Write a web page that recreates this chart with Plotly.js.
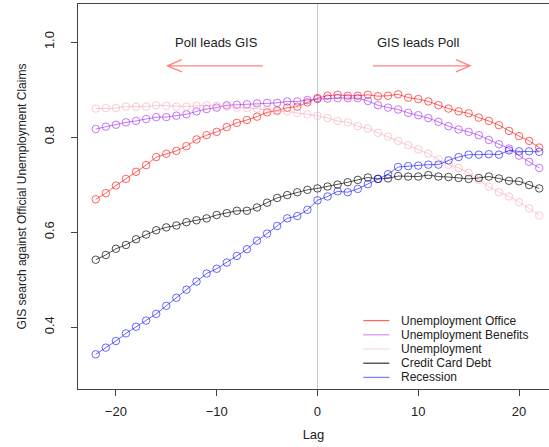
<!DOCTYPE html>
<html>
<head>
<meta charset="utf-8">
<script src="https://cdn.plot.ly/plotly-3.0.1.min.js"></script>
<style>html,body{margin:0;padding:0;background:#fff;}#chart{width:549px;height:447px;}</style>
</head>
<body>
<div id="chart"></div>
<script>
// ---- data ----
var lags = [-22,-21,-20,-19,-18,-17,-16,-15,-14,-13,-12,-11,-10,-9,-8,-7,-6,-5,-4,-3,-2,-1,0,1,2,3,4,5,6,7,8,9,10,11,12,13,14,15,16,17,18,19,20,21,22];

var unemploymentOffice = [0.669,0.682,0.698,0.712,0.727,0.741,0.758,0.765,0.771,0.781,0.795,0.804,0.811,0.821,0.830,0.836,0.843,0.852,0.856,0.862,0.864,0.873,0.882,0.887,0.889,0.887,0.887,0.889,0.886,0.887,0.890,0.883,0.880,0.875,0.867,0.860,0.854,0.850,0.841,0.834,0.825,0.813,0.802,0.792,0.778];

var unemploymentBenefits = [0.817,0.822,0.826,0.831,0.834,0.838,0.842,0.842,0.845,0.848,0.854,0.859,0.862,0.867,0.868,0.869,0.871,0.872,0.872,0.875,0.875,0.878,0.880,0.881,0.882,0.882,0.882,0.876,0.867,0.862,0.858,0.851,0.846,0.840,0.832,0.823,0.816,0.811,0.804,0.794,0.785,0.776,0.761,0.748,0.735];

var unemployment = [0.860,0.861,0.861,0.864,0.864,0.864,0.867,0.866,0.864,0.864,0.866,0.867,0.866,0.864,0.862,0.861,0.860,0.857,0.854,0.854,0.851,0.848,0.845,0.840,0.834,0.831,0.823,0.818,0.809,0.801,0.792,0.783,0.774,0.765,0.753,0.742,0.735,0.725,0.710,0.696,0.684,0.675,0.663,0.650,0.635];

var creditCardDebt = [0.542,0.552,0.565,0.573,0.585,0.595,0.604,0.610,0.614,0.621,0.625,0.629,0.636,0.640,0.645,0.645,0.652,0.662,0.672,0.678,0.684,0.689,0.692,0.696,0.700,0.705,0.710,0.715,0.712,0.713,0.718,0.717,0.717,0.720,0.717,0.716,0.714,0.712,0.714,0.717,0.713,0.708,0.707,0.699,0.692];

var recession = [0.343,0.357,0.371,0.387,0.401,0.414,0.428,0.445,0.462,0.479,0.496,0.513,0.523,0.536,0.550,0.564,0.582,0.597,0.613,0.629,0.634,0.647,0.667,0.675,0.686,0.684,0.691,0.701,0.712,0.722,0.737,0.739,0.740,0.742,0.742,0.751,0.758,0.763,0.763,0.764,0.763,0.772,0.770,0.770,0.769];

var seriesNames = ['Unemployment Office','Unemployment Benefits','Unemployment','Credit Card Debt','Recession'];
var seriesValues = [unemploymentOffice, unemploymentBenefits, unemployment, creditCardDebt, recession];

var xTickVals = [-20,-10,0,10,20];
var yTickVals = [0.4,0.6,0.8,1.0];
var yTickText = ['0.4','0.6','0.8','1.0'];

// ---- styles ----
var seriesColors = ['rgba(255,0,0,0.6)','rgba(160,32,240,0.6)','rgba(245,160,175,0.55)','rgba(0,0,0,0.68)','rgba(0,0,255,0.58)'];
var legendColors = ['rgba(255,0,0,0.6)','rgba(160,32,240,0.45)','rgba(245,160,175,0.4)','rgba(0,0,0,0.75)','rgba(0,0,255,0.5)'];
var FONT = 'Liberation Sans, Arial, Helvetica, sans-serif';

var traces = seriesNames.map(function(name, i){
  return {
    type:'scatter', mode:'lines+markers', name:name,
    x:lags, y:seriesValues[i],
    line:{color:seriesColors[i], width:1},
    marker:{symbol:'circle-open', size:7.5, color:seriesColors[i], line:{color:seriesColors[i], width:1}},
    showlegend:false, hoverinfo:'skip'
  };
});

// legend drawn R-style (lines only), rows in paper coords
var legTop = 0.1777, legStep = 0.0369;
var shapes = [];
var annotations = [];
seriesNames.forEach(function(name, i){
  var yy = legTop - i*legStep;
  shapes.push({type:'line', xref:'paper', yref:'paper', x0:0.6057, x1:0.661, y0:yy, y1:yy,
               line:{color:legendColors[i], width:1.3}});
  annotations.push({xref:'paper', yref:'paper', x:0.683, y:yy, xanchor:'left', yanchor:'middle',
               text:name, showarrow:false, borderpad:0,
               font:{family:FONT, size:12, color:'#222'}});
});

// direction arrows (R-style open heads)
var arrowColor = 'rgba(255,90,90,0.75)';
var hx = 1.42, hy = 0.0128, ay = 0.95;
function arrowPath(x0, x1){
  var d = x1 > x0 ? -hx : hx;
  return 'M'+x0+','+ay+' L'+x1+','+ay+' M'+(x1+d)+','+(ay+hy)+' L'+x1+','+ay+' L'+(x1+d)+','+(ay-hy);
}
shapes.push({type:'path', xref:'x', yref:'y', path:arrowPath(-5.42,-14.88), line:{color:arrowColor, width:1.3}});
shapes.push({type:'path', xref:'x', yref:'y', path:arrowPath(5.5,15.15), line:{color:arrowColor, width:1.3}});
annotations.push({xref:'x', yref:'y', x:-10, y:1.0, text:'Poll leads GIS', showarrow:false,
                  font:{family:FONT, size:13, color:'#222'}});
annotations.push({xref:'x', yref:'y', x:10, y:1.0, text:'GIS leads Poll', showarrow:false,
                  font:{family:FONT, size:13, color:'#222'}});

var layout = {
  width:549, height:447,
  margin:{l:78, r:0, t:4, b:58, pad:0},
  paper_bgcolor:'#fff', plot_bgcolor:'#fff',
  showlegend:false,
  font:{family:FONT, size:13, color:'#222'},
  xaxis:{
    range:[-23.76, 22.97], tickvals:xTickVals, ticks:'outside', ticklen:6, tickwidth:1, tickcolor:'#444',
    showline:true, linecolor:'#444', linewidth:1, mirror:true,
    showgrid:false, zeroline:true, zerolinecolor:'#c8c8c8', zerolinewidth:1,
    ticklabelstandoff:4,
    tickfont:{family:FONT, size:13, color:'#222'},
    title:{text:'Lag', font:{family:FONT, size:13, color:'#222'}, standoff:12}
  },
  yaxis:{
    range:[0.27, 1.08], tickvals:yTickVals, ticktext:yTickText, tickangle:-90,
    ticks:'outside', ticklen:6, tickwidth:1, tickcolor:'#444',
    showline:true, linecolor:'#444', linewidth:1, mirror:false,
    showgrid:false, zeroline:false,
    ticklabelstandoff:12,
    tickfont:{family:FONT, size:13, color:'#222'},
    title:{text:'GIS search against Official Unemployment Claims', font:{family:FONT, size:12, color:'#222'}, standoff:12}
  },
  shapes:shapes,
  annotations:annotations
};

Plotly.newPlot('chart', traces, layout, {staticPlot:true, displayModeBar:false});
</script>
</body>
</html>
